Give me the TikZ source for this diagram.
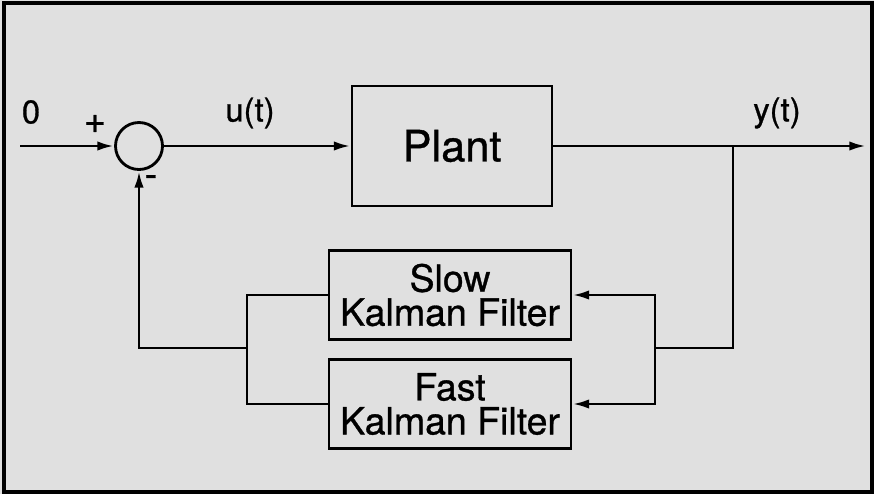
\documentclass[tikz,border=0pt]{standalone}
\usepackage{fontspec}
\setmainfont{TeX Gyre Heros}[FakeBold=0.8]
\usepackage{xcolor}
\usepackage{tikz}
\usetikzlibrary{arrows.meta,positioning}
\definecolor{paper}{RGB}{224,224,224}

\begin{document}
\begin{tikzpicture}[
  x={(0.03cm,0cm)},
  y={(0cm,-0.03cm)},
  line width=0.85mm,
  >={Latex[length=5mm,width=2.8mm]},
  blk/.style={draw, inner sep=0pt, align=center},
  filt/.style={blk, minimum width=7.26cm, minimum height=2.67cm,
    font=\fontsize{32}{29}\selectfont},
  lab/.style={font=\fontsize{28}{30}\selectfont},
  sgn/.style={font=\fontsize{32}{34}\selectfont}
]
\fill[paper] (0,0) rectangle (874,494);
\draw[line width=1.1mm] (4,3) rectangle (872,492);

\node[circle, draw, minimum size=1.41cm, inner sep=0pt] (sum) at (139,146) {};
\node[blk, minimum width=6cm, minimum height=3.6cm,
  font=\fontsize{37}{40}\selectfont] (plant) at (452,146) {Plant};
\node[filt] (slow) at (450,295) {Slow\\Kalman Filter};
\node[filt] (fast) at (450,404) {Fast\\Kalman Filter};

\coordinate (in) at (20,146);
\coordinate (out) at (866,146);
\coordinate (tap) at (733,146);
\coordinate (rbus) at (655,348);
\coordinate (lbus) at (247,348);

\draw[->] (in) -- (sum);
\draw[->] (sum) -- (plant);
\draw[->] (plant) -- (out);
\draw (tap) |- (rbus);
\draw[->] (rbus) |- (slow);
\draw[->] (rbus) |- (fast);
\draw (slow) -| (lbus);
\draw (fast) -| (lbus);
\draw[->] (lbus) -| (sum);

\node[lab] (zero) at (31,112) {0};
\node[sgn] (plus) at (95,124) {+};
\node[sgn] (minus) at (151,181) {-};
\node[lab] (ut) at (250,113) {u(t)};
\node[lab] (yt) at (777,113) {y(t)};
\end{tikzpicture}
\end{document}
